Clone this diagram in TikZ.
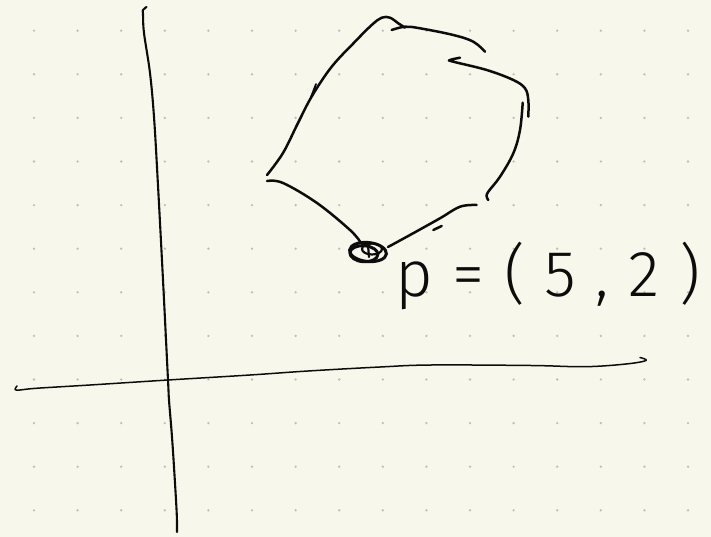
\documentclass[tikz,border=0pt]{standalone}
\usepackage{fontspec}
\setmainfont{Fira Sans}[UprightFont={* Light}]
\usepackage{tikz}
\usetikzlibrary{positioning, calc}
\usepackage{xcolor}
\definecolor{PaperCream}{RGB}{248,247,236}
\definecolor{DotGray}{RGB}{192,191,184}
\definecolor{InkBlack}{RGB}{12,12,12}
\tikzset{
  paperdot/.style={fill=DotGray},
  axisstroke/.style={draw=InkBlack, line width=1.5pt, line cap=round, line join=round},
  shapestroke/.style={draw=InkBlack, line width=2.5pt, line cap=round, line join=round},
  handtext/.style={text=InkBlack, font=\fontsize{65}{65}\selectfont\addfontfeature{LetterSpace=30},
    inner sep=0pt}
}

\begin{document}
\begin{tikzpicture}[x=1pt, y=-1pt]

  % Paper
  \fill[PaperCream] (0,0) rectangle (711,537);
  \useasboundingbox (0,0) rectangle (711,537);
  \foreach \i in {0,...,15} {
    \foreach \j in {0,...,11} {
      \fill[paperdot] ({34+43.6*\i},{30.7+43.6*\j}) circle (1.3pt);
    }
  }

  % Axes
  \draw[axisstroke, line width=2.1pt] plot[smooth, tension=0.6] coordinates {
    (146.5,7) (143,10) (143,14) (144,33) (150,73) (154,117) (157.7,180)
    (163,280) (168,380) (169,400) (171.7,433) (174,467) (176.7,513) (177,532)};
  \draw[axisstroke, line width=1.5pt] plot[smooth, tension=0.6] coordinates {
    (17,386) (15,389.5) (20,390) (36,388.3) (90,385) (168,380) (250,375)
    (308,371) (380,367) (431,365) (531,365.5) (585,366.7) (626,364) (646,360.5) (640,357.5)};

  % Polygon
  \draw[shapestroke] plot[smooth, tension=0.6] coordinates {
    (267,181) (283,183) (317,203) (350,230) (361,243)};
  \draw[shapestroke] plot[smooth, tension=0.6] coordinates {
    (267,175) (283,153) (298,123) (312,96) (331.7,66.7) (355,41.7)
    (371.7,25) (381.7,17.7) (390,17.7) (398.3,23.3) (405,27.7)};
  \draw[shapestroke, line width=1.8pt] (311,97) -- (316,84) -- (313,94);
  \draw[shapestroke] plot[smooth, tension=0.6] coordinates {
    (391.7,30) (405,26.7) (420,28.3) (453.3,35) (473.3,41.7) (485,51.7)};
  \draw[shapestroke] plot[smooth, tension=0.6] coordinates {
    (460,57.7) (450,60) (453.3,61.7) (486.7,70) (513.3,80) (525,88.3)
    (528.3,100) (528.3,116.7)};
  \draw[shapestroke] plot[smooth, tension=0.6] coordinates {
    (522.7,102.7) (520,130) (513.3,153.3) (500,176.7) (488.3,191.7)
    (486.7,196.7) (488.3,200)};
  \draw[shapestroke] plot[smooth, tension=0.6] coordinates {
    (476.7,205) (460,206.7) (440,218.3) (410,235) (388,247)};
  \draw[shapestroke] (433.3,230) -- (441.7,226);

  % Point p
  \coordinate (pt) at (368,252);
  \draw[shapestroke, line width=3pt, rotate around={-6:(pt)}]
    (pt) ellipse [x radius=18.5pt, y radius=9.5pt];
  \draw[shapestroke, line width=3pt, rotate around={-4:(pt)}]
    ($(pt)+(-4,2)$) ellipse [x radius=14pt, y radius=8pt];
  \draw[shapestroke, line width=2.2pt] ($(pt)+(4,-3)$) ellipse [x radius=10pt, y radius=5.5pt];
  \draw[shapestroke, line width=2.2pt] ($(pt)+(0,-7)$) -- ($(pt)+(1,5)$);

  % Label
  \node[handtext, anchor=base west] (plabel) at (395,296) {p=(5,2)};

\end{tikzpicture}
\end{document}
